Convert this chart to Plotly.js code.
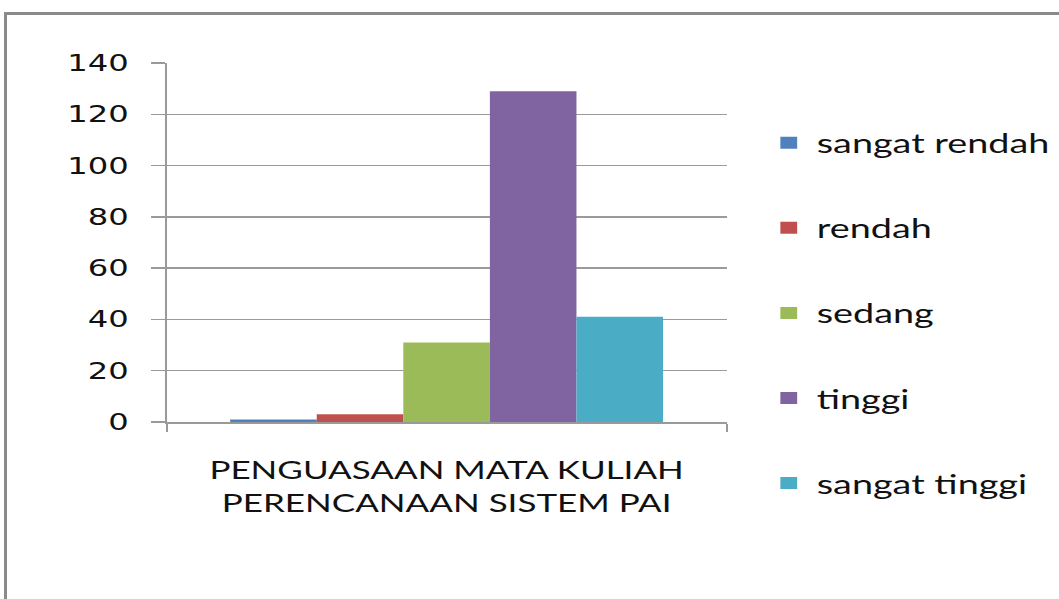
<!DOCTYPE html>
<html>
<head>
<meta charset="utf-8">
<script src="https://cdn.plot.ly/plotly-3.0.1.min.js"></script>
<style>
  html, body { margin: 0; padding: 0; width: 1059px; height: 599px; overflow: hidden; background: #fff; }
  #chart { position: absolute; left: 0; top: 0; width: 800px; height: 599px; transform: scaleX(1.4); transform-origin: 0 0; }
  #frame { position: absolute; left: 4px; top: 12px; width: 1120px; height: 700px; border: 3px solid #8a8a8a; pointer-events: none; }
</style>
</head>
<body>
<div id="chart"></div>
<div id="frame"></div>
<script>
// Data
const categories = ["PENGUASAAN MATA KULIAH<br>PERENCANAAN SISTEM PAI"];
const seriesNames = ["sangat rendah", "rendah", "sedang", "tinggi", "sangat tinggi"];
const sangatRendah = [1];
const rendah = [3];
const sedang = [31];
const tinggi = [129];
const sangatTinggi = [41];
const yTicks = [0, 20, 40, 60, 80, 100, 120, 140];

const seriesValues = [sangatRendah, rendah, sedang, tinggi, sangatTinggi];
const colors = ["#4F81BD", "#C0504D", "#9BBB59", "#8064A2", "#4BACC6"];

const traces = seriesNames.map((name, i) => ({
  type: "bar",
  name: name,
  x: categories,
  y: seriesValues[i],
  legendgroup: "g" + i,
  marker: { color: colors[i], line: { width: 0 } },
  hoverinfo: "name+y"
}));

const gridCol = "#9a9a9a";
const layout = {
  width: 800,
  height: 599,
  paper_bgcolor: "rgba(0,0,0,0)",
  plot_bgcolor: "rgba(0,0,0,0)",
  margin: { l: 119.3, r: 280.7, t: 63.3, b: 177.3, pad: 0 },
  barmode: "group",
  bargap: 0.227,
  bargroupgap: 0,
  showlegend: true,
  legend: {
    x: 1.061, xanchor: "left",
    y: 0.845, yanchor: "top",
    traceorder: "grouped",
    tracegroupgap: 47,
    maxheight: 560,
    font: { family: "Lato, 'Open Sans', sans-serif", size: 27, color: "#111" },
    bgcolor: "rgba(0,0,0,0)"
  },
  xaxis: {
    type: "category",
    range: [-0.5, 0.5],
    showline: true,
    linecolor: gridCol,
    linewidth: 1.5,
    ticks: "outside",
    tickson: "boundaries",
    ticklen: 8,
    tickwidth: 1.5,
    tickcolor: gridCol,
    showgrid: false,
    ticklabelstandoff: 26,
    tickfont: { family: "Lato, 'Open Sans', sans-serif", size: 25, color: "#111" }
  },
  yaxis: {
    range: [0, 140],
    tickvals: yTicks,
    ticktext: yTicks.map(String),
    showline: true,
    linecolor: gridCol,
    linewidth: 1.5,
    ticks: "outside",
    ticklen: 10,
    tickwidth: 1.5,
    tickcolor: gridCol,
    showgrid: true,
    gridcolor: gridCol,
    gridwidth: 1.5,
    zeroline: false,
    ticklabelstandoff: 11,
    tickfont: { family: "'DejaVu Sans', sans-serif", size: 23, color: "#111" }
  }
};

Plotly.newPlot("chart", traces, layout, { displayModeBar: false, staticPlot: true });
</script>
</body>
</html>
